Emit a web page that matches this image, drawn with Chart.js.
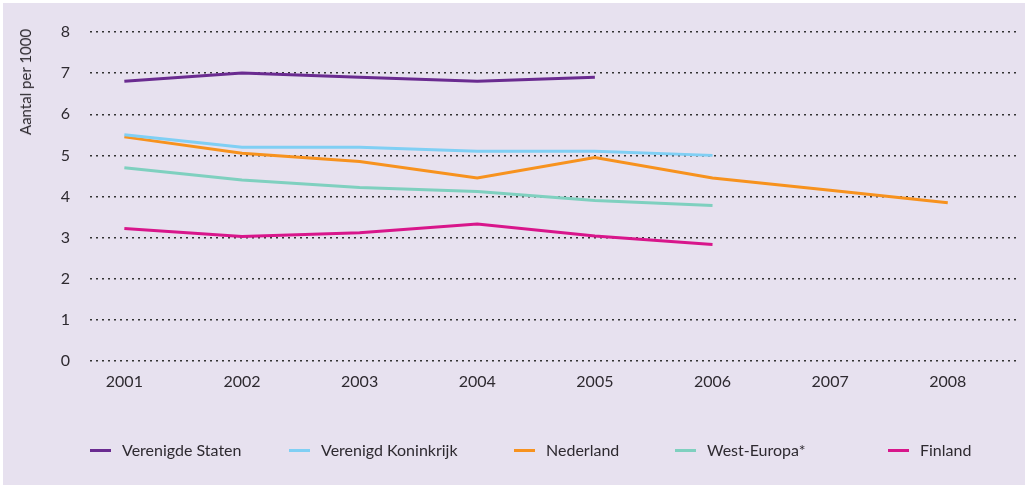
<!DOCTYPE html>
<html>
<head>
<meta charset="utf-8">
<script src="https://cdn.jsdelivr.net/npm/chart.js@4/dist/chart.umd.min.js"></script>
<style>
  html, body { margin: 0; padding: 0; background: #ffffff; }
  #wrap { position: absolute; left: 0; top: 0; width: 1025px; height: 485px; }
  #bg { position: absolute; left: 3px; top: 3px; right: 0; bottom: 0; background: #e7e1ef; }
  #chart { position: absolute; left: 0; top: 0; }
  .ytitle { position: absolute; left: 25px; top: 82px; transform: translate(-50%, -50%) rotate(-90deg);
    font-family: Lato, sans-serif; font-size: 15px; color: #2e2a30; white-space: nowrap; }
  .leg { position: absolute; top: 440px; font-family: Lato, sans-serif; font-size: 16px; color: #2e2a30; white-space: nowrap; }
  .leg span.sw { display: inline-block; width: 21px; height: 3px; vertical-align: middle; margin-right: 11px; position: relative; top: -1px; }
</style>
</head>
<body>
<div id="wrap">
  <div id="bg"></div>
  <canvas id="chart" width="1025" height="485"></canvas>
  <div class="ytitle">Aantal per 1000</div>
  <div id="legend"></div>
</div>
<script>
const years = [2001, 2002, 2003, 2004, 2005, 2006, 2007, 2008];
const yTicks = [0, 1, 2, 3, 4, 5, 6, 7, 8];
const seriesNames = ["Verenigde Staten", "Verenigd Koninkrijk", "Nederland", "West-Europa*", "Finland"];
const verenigdeStaten = [6.8, 7.0, 6.9, 6.8, 6.9, null, null, null];
const verenigdKoninkrijk = [5.5, 5.2, 5.2, 5.1, 5.1, 5.0, null, null];
const nederland = [5.45, 5.05, 4.85, 4.45, 4.95, 4.45, 4.15, 3.85];
const westEuropa = [4.7, 4.4, 4.22, 4.12, 3.9, 3.78, null, null];
const finland = [3.22, 3.03, 3.12, 3.33, 3.04, 2.83, null, null];

const colors = ["#6a2b90", "#80cff4", "#f7921e", "#7fd0bf", "#d8168b"];
const allValues = [verenigdeStaten, verenigdKoninkrijk, nederland, westEuropa, finland];
const legendX = [90, 289, 514, 675, 888];

const toPts = arr => years.map((y, i) => ({ x: y, y: arr[i] })).filter(p => p.y !== null);

const datasets = seriesNames.map((name, i) => ({
  label: name,
  data: toPts(allValues[i]),
  borderColor: colors[i],
  backgroundColor: colors[i],
  borderWidth: 3,
  pointRadius: 0,
  tension: 0,
  fill: false
}));

const legend = document.getElementById('legend');
seriesNames.forEach((n, i) => {
  const d = document.createElement('div');
  d.className = 'leg';
  d.style.left = legendX[i] + 'px';
  d.innerHTML = '<span class="sw" style="background:' + colors[i] + '"></span>' + n;
  legend.appendChild(d);
});

new Chart(document.getElementById('chart'), {
  type: 'line',
  data: { datasets },
  options: {
    responsive: false,
    animation: false,
    layout: { padding: { left: 0, right: 9, top: 32, bottom: 84 } },
    plugins: { legend: { display: false }, tooltip: { enabled: false } },
    scales: {
      x: {
        type: 'linear',
        min: 2000.708,
        max: 2008.58,
        afterBuildTicks: s => { s.ticks = years.map(v => ({ value: v })); },
        afterFit: s => { s.height = 40; },
        grid: { display: false, drawTicks: false },
        border: { display: false },
        ticks: { padding: 11, color: '#2e2a30', font: { family: 'Lato', size: 16 }, callback: v => String(v), maxRotation: 0, autoSkip: false }
      },
      y: {
        min: 0,
        max: 8,
        afterBuildTicks: s => { s.ticks = yTicks.map(v => ({ value: v })); },
        afterFit: s => { s.width = 90; },
        grid: { color: '#333333', lineWidth: 1.5, drawTicks: false, tickBorderDash: [2, 4] },
        border: { display: false, dash: [2, 4] },
        ticks: { padding: 20, color: '#2e2a30', font: { family: 'Lato', size: 16 } }
      }
    }
  }
});
</script>
</body>
</html>
